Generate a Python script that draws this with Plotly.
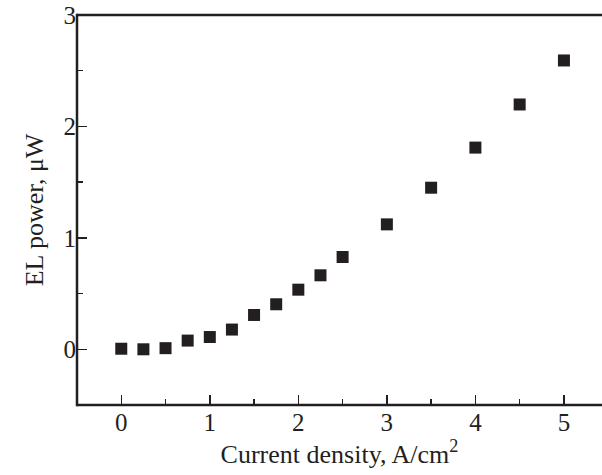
import plotly.graph_objects as go

current_density = [0, 0.25, 0.5, 0.75, 1.0, 1.25, 1.5, 1.75, 2.0, 2.25, 2.5, 3.0, 3.5, 4.0, 4.5, 5.0]
el_power = [0.005, 0.0, 0.01, 0.078, 0.11, 0.177, 0.308, 0.404, 0.535, 0.664, 0.828, 1.121, 1.45, 1.81, 2.197, 2.592]

x_ticks = [0, 1, 2, 3, 4, 5]
y_ticks = [0, 1, 2, 3]

ink = "#231f20"
fig = go.Figure()
fig.add_trace(go.Scatter(
    x=current_density, y=el_power, mode="markers",
    marker=dict(symbol="square", size=12, color=ink, line=dict(width=0)),
    showlegend=False,
))

font_family = "Liberation Serif"
fig.update_layout(
    template="none",
    width=602, height=475,
    margin=dict(l=77, r=0, t=15, b=70, pad=0),
    paper_bgcolor="white", plot_bgcolor="rgba(0,0,0,0)",
    font=dict(family=font_family, size=25, color=ink),
)
# frame: left, top and bottom lines (no right frame line in the reference)
fig.add_shape(type="line", xref="paper", yref="paper", x0=0, x1=0, y0=-0.003, y1=1.003,
              line=dict(color=ink, width=2.5), layer="above")
fig.add_shape(type="line", xref="paper", yref="paper", x0=0, x1=1.02, y0=1, y1=1,
              line=dict(color=ink, width=2.5), layer="above")
fig.add_shape(type="line", xref="paper", yref="paper", x0=0, x1=1.02, y0=0, y1=0,
              line=dict(color=ink, width=2.5), layer="above")
common = dict(
    ticks="inside", ticklen=10, tickwidth=1.5, tickcolor=ink,
    showgrid=False, zeroline=False, automargin=False, showline=False,
)
fig.update_xaxes(
    range=[-0.5, 5.43], tickvals=x_ticks, ticktext=[str(v) for v in x_ticks],
    minor=dict(dtick=0.5, tick0=0, ticks="inside", ticklen=6, tickwidth=1.5, tickcolor=ink, showgrid=False),
    title=dict(text="Current density, A/cm<sup>2</sup>", standoff=2, font=dict(size=26)),
    tickfont=dict(size=25), **common,
)
fig.update_yaxes(
    range=[-0.5, 3], tickvals=y_ticks, ticktext=[str(v) for v in y_ticks],
    minor=dict(dtick=0.5, tick0=0, ticks="inside", ticklen=6, tickwidth=1.5, tickcolor=ink, showgrid=False),
    title=dict(text="EL power, μW", standoff=12, font=dict(size=26)),
    tickfont=dict(size=25), **common,
)

fig.write_html("out.html", config={"staticPlot": True, "displayModeBar": False})
